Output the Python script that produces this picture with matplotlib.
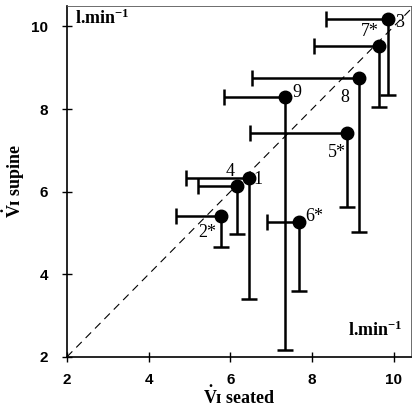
import numpy as np
import matplotlib.pyplot as plt

plt.rcParams['mathtext.fontset'] = 'custom'
plt.rcParams['mathtext.rm'] = 'Liberation Serif:bold'
plt.rcParams['mathtext.it'] = 'Liberation Serif:bold'
plt.rcParams['mathtext.bf'] = 'Liberation Serif:bold'

# subject labels and ventilation values (l/min)
names = ['1', '2*', '3', '4', '5*', '6*', '7*', '8', '9']
seated = [6.45, 5.77, 9.87, 6.16, 8.85, 7.67, 9.63, 9.14, 7.35]
supine = [6.32, 5.42, 10.19, 6.15, 7.43, 5.27, 9.52, 8.76, 8.30]
seated_low = [4.91, 4.67, 8.33, 5.20, 6.47, 6.89, 8.04, 6.52, 5.84]
supine_low = [3.41, 4.67, 8.33, 4.98, 5.64, 3.60, 8.06, 5.03, 2.17]

# label offsets in points
offs = {'1': (7, -1), '2*': (-10, -12), '3': (8, -3), '4': (-5, 10),
        '5*': (-7, -14), '6*': (11, 4), '7*': (-6, 11), '8': (-10, -14),
        '9': (8, 3)}

fig = plt.figure(figsize=(4.18, 4.16), dpi=100)
ax = fig.add_axes([0.160, 0.142, 0.823, 0.844])

lim = [2, 10.45]
ax.plot(lim, lim, color='black', lw=0.8, dashes=(7, 5))

# one-sided bars: leftwards and downwards only
ax.hlines(supine, seated_low, seated, color='black', lw=1.8)
ax.vlines(seated, supine_low, supine, color='black', lw=1.8)
ax.plot(seated_low, supine, '|', color='black', ms=11, mew=1.8)
ax.plot(seated, supine_low, '_', color='black', ms=11, mew=1.8)
ax.plot(seated, supine, 'o', color='black', ms=9, zorder=5)

for n, x, y in zip(names, seated, supine):
    ax.annotate(n, (x, y), xytext=offs[n], textcoords='offset points',
                ha='center', va='center', fontsize=13,
                family='Liberation Serif', zorder=6)

ax.set_xlim(2, 10.42)
ax.set_ylim(2, 10.5)
ax.set_xticks([2, 4, 6, 8, 10])
ax.set_yticks([2, 4, 6, 8, 10])
ax.tick_params(direction='inout', length=7, width=1, pad=8)
ax.tick_params(axis='y', pad=10)
for lab in ax.get_xticklabels() + ax.get_yticklabels():
    lab.set_fontfamily('Liberation Sans')
    lab.set_fontweight('bold')
    lab.set_fontsize(11)

for s in ['top', 'right']:
    ax.spines[s].set_linewidth(0.6)
    ax.spines[s].set_color('#555555')
for s in ['left', 'bottom']:
    ax.spines[s].set_linewidth(1.2)

ax.text(0.025, 0.965, r'l.min$^{-1}$', transform=ax.transAxes,
        ha='left', va='center', fontsize=13, family='Liberation Serif',
        fontweight='bold')
ax.text(0.975, 0.075, r'l.min$^{-1}$', transform=ax.transAxes,
        ha='right', va='center', fontsize=13, family='Liberation Serif',
        fontweight='bold')

fam = ['Liberation Serif', 'DejaVu Serif']
ax.set_xlabel(r'$\dot{\mathrm{V}}$' + '\u026a seated', fontsize=13,
              fontweight='bold', family=fam, labelpad=-1)
ax.set_ylabel(r'$\dot{\mathrm{V}}$' + '\u026a supine', fontsize=13,
              fontweight='bold', family=fam, labelpad=3)

fig.savefig('out.png', dpi=100)
